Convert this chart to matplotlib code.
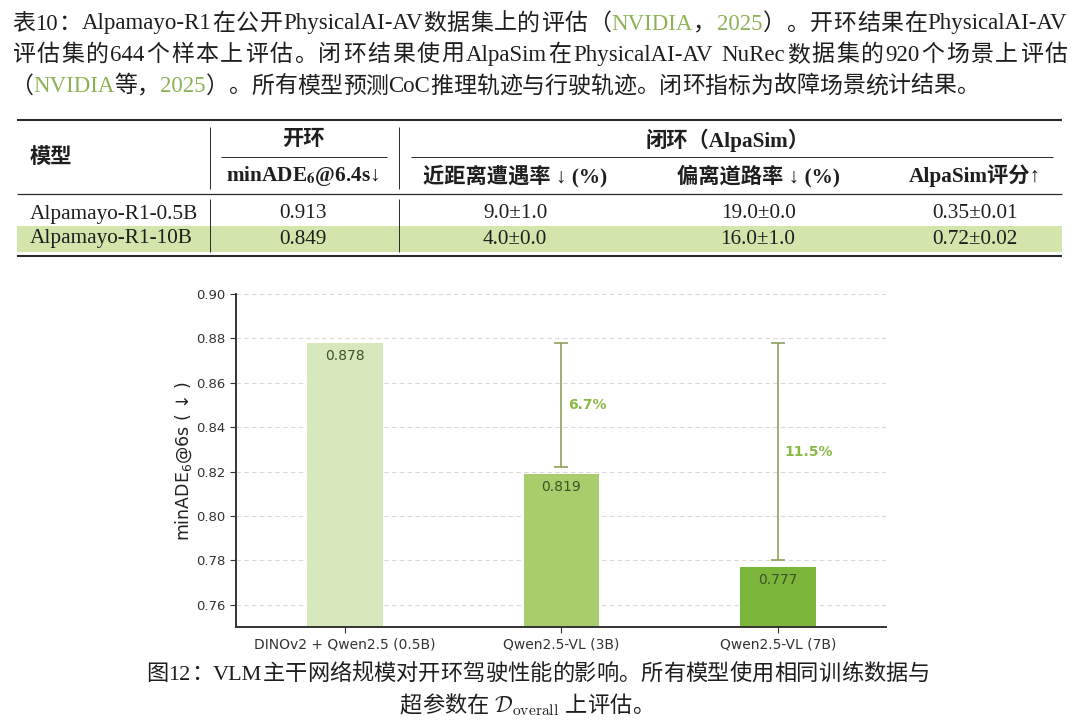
import re
import matplotlib
matplotlib.use('Agg')
import matplotlib.pyplot as plt
from matplotlib.font_manager import FontProperties

# ---- figure 12: backbone size vs open-loop minADE
backbones = ['DINOv2 + Qwen2.5 (0.5B)', 'Qwen2.5-VL (3B)', 'Qwen2.5-VL (7B)']
min_ade = [0.878, 0.819, 0.777]
gain_labels = ['', '6.7%', '11.5%']
y_ticks = [0.76, 0.78, 0.80, 0.82, 0.84, 0.86, 0.88, 0.90]

# ---- table 10
tab_models = ['Alpamayo-R1-0.5B', 'Alpamayo-R1-10B']
tab_ade = ['0.913', '0.849']
tab_close = ['9.0±1.0', '4.0±0.0']
tab_offroad = ['19.0±0.0', '16.0±1.0']
tab_score = ['0.35±0.01', '0.72±0.02']
tab_group = ['模型', '开环', '闭环（AlpaSim）']
tab_sub = [r'minADE$_\mathbf{6}$@6.4s↓', '近距离遭遇率 ↓ (%)', '偏离道路率 ↓ (%)', 'AlpaSim评分↑']

# ---- captions, (text, colour key) runs per line
caption_top = [
    [('表10：Alpamayo-R1在公开PhysicalAI-AV数据集上的评估（', 'k'), ('NVIDIA', 'g'), ('，', 'k'),
     ('2025', 'g'), ('）。开环结果在PhysicalAI-AV', 'k')],
    [('评估集的644个样本上评估。闭环结果使用AlpaSim在PhysicalAI-AV NuRec数据集的920个场景上评估', 'k')],
    [('（', 'k'), ('NVIDIA', 'g'), ('等，', 'k'), ('2025', 'g'),
     ('）。所有模型预测CoC推理轨迹与行驶轨迹。闭环指标为故障场景统计结果。', 'k')],
]
caption_bottom = [
    [('图12：VLM主干网络规模对开环驾驶性能的影响。所有模型使用相同训练数据与', 'k')],
    [('超参数在 ', 'k'), (r'$\mathcal{D}_{\mathrm{overall}}$', 'k'), (' 上评估。', 'k')],
]

text_colors = {'k': '#1e1e1e', 'g': '#8db255'}
bar_colors = ['#d7e8bd', '#a9cd6a', '#7bb53a']
serif_cjk = ['Liberation Serif', 'Noto Sans CJK SC']

W, H = 1080, 726
fig = plt.figure(figsize=(W / 100, H / 100), dpi=100)
renderer = fig.canvas.get_renderer()

# full-figure layer in pixel coordinates for captions and table
bg = fig.add_axes([0, 0, 1, 1])
bg.set_xlim(0, W)
bg.set_ylim(H, 0)
bg.axis('off')


def advance(tok, prop):
    if tok.startswith('$'):
        return renderer.get_text_width_height_descent(tok, prop, ismath=True)[0]
    a = renderer.get_text_width_height_descent('中' + tok + '中', prop, ismath=False)[0]
    b = renderer.get_text_width_height_descent('中中', prop, ismath=False)[0]
    return a - b


def caption_line(runs, y, prop, x0=None, x1=None, xc=None):
    toks = []
    for s, c in runs:
        for t in re.findall(r'\$[^$]*\$|[A-Za-z0-9.\-]+|.', s):
            toks.append((t, c))
    widths = [advance(t, prop) for t, _ in toks]
    total = sum(widths)
    gap = 0.0
    if x1 is not None:
        gap = (x1 - x0 - total) / (len(toks) - 1)
    elif xc is not None:
        x0 = xc - total / 2
    x = x0
    for (t, c), w in zip(toks, widths):
        if t != ' ':
            bg.text(x, y, t, color=text_colors[c], fontproperties=prop, ha='left', va='baseline')
        x += w + gap


top_prop = FontProperties(family=serif_cjk, size=16.5, math_fontfamily='cm')
bot_prop = FontProperties(family=serif_cjk, size=16, math_fontfamily='cm')
caption_line(caption_top[0], 29.5, top_prop, x0=12, x1=1067)
caption_line(caption_top[1], 61, top_prop, x0=12, x1=1067)
caption_line(caption_top[2], 92.5, top_prop, x0=10)
caption_line(caption_bottom[0], 680, bot_prop, xc=538)
caption_line(caption_bottom[1], 712, bot_prop, xc=527)

# ---- table
rule = '#2a2a2a'
bg.axhspan(226, 252, xmin=16.5 / W, xmax=1062 / W, color='#d3e5ab', lw=0, zorder=0)
bg.hlines(120, 16.5, 1062, color=rule, lw=1.5)
bg.hlines(256, 16.5, 1062, color=rule, lw=1.5)
bg.hlines(194, 16.5, 1062, color=rule, lw=0.9)
bg.hlines(156.5, 221, 387, color=rule, lw=0.7)
bg.hlines(156.5, 411, 1053, color=rule, lw=0.7)
for vx in (210, 399):
    bg.vlines(vx, 127, 189, color=rule, lw=0.7)
    bg.vlines(vx, 199, 252, color=rule, lw=0.7)

bold = FontProperties(family=serif_cjk, size=15.3, weight='bold', math_fontfamily='stix')
plain = FontProperties(family=serif_cjk, size=15.3)
col_x = [303, 515, 758, 975]

bg.text(30, 158, tab_group[0], fontproperties=bold, ha='left', va='center', color='#1e1e1e')
bg.text(303, 140, tab_group[1], fontproperties=bold, ha='center', va='center', color='#1e1e1e')
bg.text(728, 140, tab_group[2], fontproperties=bold, ha='center', va='center', color='#1e1e1e')
for cx, lab in zip(col_x, tab_sub):
    bg.text(cx, 176, lab, fontproperties=bold, ha='center', va='center', color='#1e1e1e')

for i, ry in enumerate([214, 239]):
    bg.text(30, ry, tab_models[i], fontproperties=plain, ha='left', va='center', color='#1e1e1e')
    for cx, col in zip(col_x, [tab_ade, tab_close, tab_offroad, tab_score]):
        bg.text(cx, ry, col[i], fontproperties=plain, ha='center', va='center', color='#1e1e1e')

# ---- bar chart
ax = fig.add_axes([236.2 / W, 1 - 627 / H, (886 - 236.2) / W, (627 - 294) / H])
xs = list(range(len(backbones)))
ax.bar(xs, min_ade, width=0.35, color=bar_colors, zorder=2)
ax.set_xlim(-0.503, 2.5)
ax.set_ylim(0.75, 0.90)
ax.set_yticks(y_ticks)
ax.set_yticklabels([f'{v:.2f}' for v in y_ticks], fontsize=9.5, color='#333333')
ax.set_xticks(xs)
ax.set_xticklabels(backbones, fontsize=10, color='#333333')
ax.yaxis.grid(True, linestyle=(0, (4, 3)), color='#d9d9d9', lw=0.8)
ax.set_axisbelow(True)
for s in ('top', 'right'):
    ax.spines[s].set_visible(False)
for s in ('left', 'bottom'):
    ax.spines[s].set_color('#333333')
    ax.spines[s].set_linewidth(1.4)
ax.tick_params(length=4, color='#333333')
ax.set_ylabel('minADE$_6$@6s ( ↓ )', fontsize=12.5, color='#222222', labelpad=2)

for x, v in zip(xs, min_ade):
    ax.text(x, v - 0.006, f'{v:.3f}', ha='center', va='center', fontsize=10, color='#3d5229', zorder=3)

for x in xs[1:]:
    low = min_ade[x] + 0.003
    mid = (min_ade[0] + low) / 2
    ax.errorbar(x, mid, yerr=(min_ade[0] - low) / 2, color='#8ca05c', capsize=5, lw=1.2, capthick=1.2)
    ax.text(x + 0.03, mid, gain_labels[x], ha='left', va='center', fontsize=10,
            fontweight='bold', color='#8cb946')

fig.savefig('out.png', dpi=100, facecolor='white')
